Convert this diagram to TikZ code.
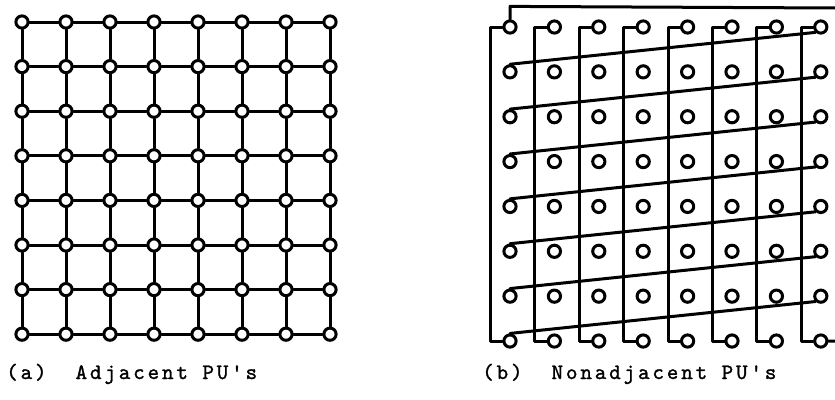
\documentclass[tikz,border=0pt]{standalone}
\usepackage{fontspec}
\usepackage{tikz}
\newfontfamily\pufont{lmmono10-regular}[Extension=.otf,LetterSpace=13,FakeBold=1.3,Ligatures=TeXOff]

\begin{document}
\begin{tikzpicture}[x=1pt,y=-1pt,
  pu/.style={circle,draw,fill=white,line width=3pt,minimum size=12.2pt,inner sep=0pt},
  lnk/.style={line width=3pt,line cap=round,line join=round},
  lbl/.style={anchor=base west,inner sep=0pt,font=\pufont\fontsize{22}{26}\selectfont}]
\useasboundingbox (0,0) rectangle (835,399);

\foreach \r in {1,...,8}
  \foreach \c in {1,...,8}
    \node[pu] (a-\r-\c) at ({22+44*(\c-1)},{22+44.6*(\r-1)}) {};
\foreach \r in {1,...,8} {
  \foreach \c [evaluate=\c as \n using int(\c+1)] in {1,...,7} {
    \draw[lnk] (a-\r-\c) -- (a-\r-\n);
    \draw[lnk] (a-\c-\r) -- (a-\n-\r);
  }
}

\foreach \r in {1,...,8}
  \foreach \c in {1,...,8}
    \node[pu] (b-\r-\c) at ({510+44.4*(\c-1)},{27+44.86*(\r-1)}) {};
\foreach \c in {1,...,8}
  \draw[lnk] (b-1-\c.west) -- ++(-12,0) |- (b-8-\c.west);
\foreach \r [evaluate=\r as \n using int(\r+1)] in {1,...,7}
  \draw[lnk] (b-\n-1.north) -- (b-\r-8.south west);
\coordinate (topend) at (835,8);
\coordinate (botend) at (835,341);
\draw[lnk] (b-1-1.north) -- ++(0,-13) -- (topend);
\draw[lnk] (b-8-8.east) -- (botend);

\node[lbl] (capa) at (6,379) {(a)\hspace{29pt}Adjacent\hspace{14.4pt}PU's};
\node[lbl] (capb) at (482,379) {(b)\hspace{29pt}Nonadjacent\hspace{14.4pt}PU's};
\end{tikzpicture}
\end{document}
